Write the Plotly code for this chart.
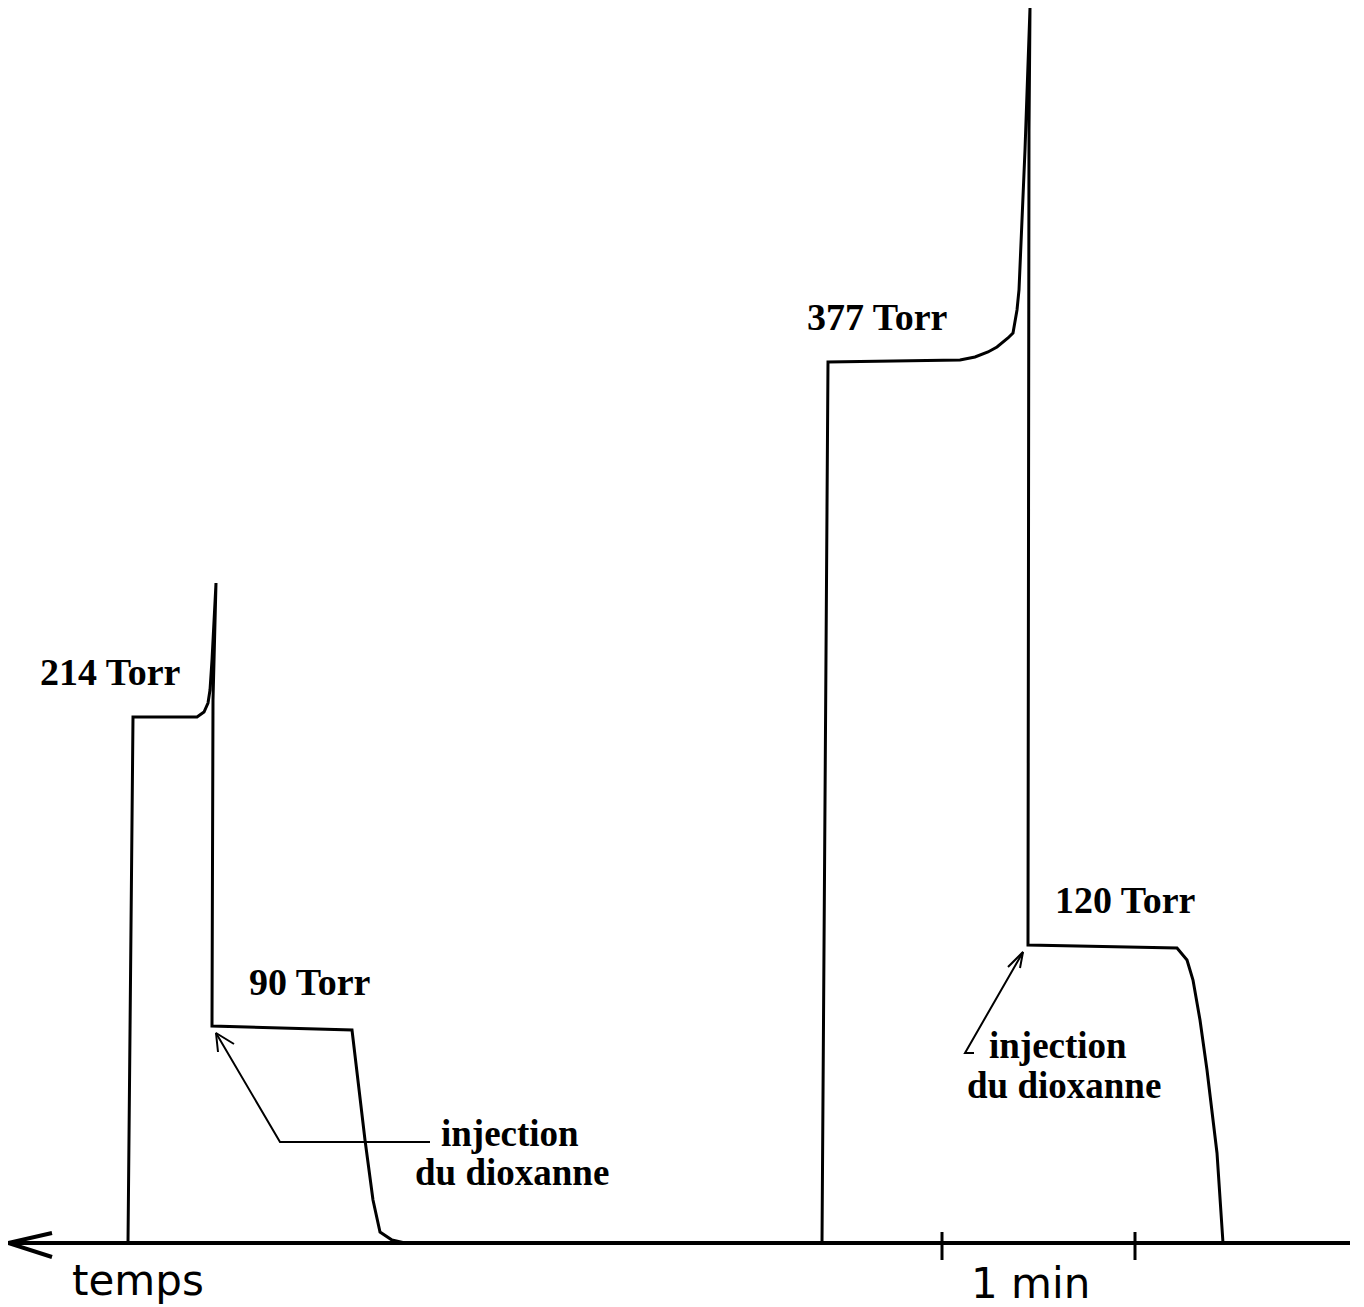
import plotly.graph_objects as go

# ---- data (x: chart position along time axis, y: signal height above baseline) ----
trace_x = [128, 133, 197, 204, 208, 210, 212, 216, 213, 212, 352, 358, 365, 373, 380, 392, 405,
           822, 828, 960, 975, 988, 997, 1008, 1013, 1017, 1019, 1025, 1030, 1029, 1028,
           1177, 1187, 1193, 1200, 1207, 1217, 1223]
trace_y = [0, 526, 526, 531, 540, 553, 583, 660, 543, 217, 213, 163, 103, 43, 11, 3, 0,
           0, 881, 883, 886, 891, 896, 905, 910, 933, 953, 1093, 1235, 1113, 298,
           295, 283, 263, 223, 173, 90, 0]

axis_x = [1350, 8]                 # time axis, arrow pointing to the left
axis_y = [0, 0]
axis_head_x = [52, 8, 52]
axis_head_y = [10, 0, -14]

tick_x = [942, 1135]               # 1 min interval
tick_y_span = [11, -17]

# injection arrows
inj_left_x = [430, 280, 216]
inj_left_y = [101, 101, 210]
inj_left_head_x = [218, 216, 234]
inj_left_head_y = [191, 210, 199]
inj_right_x = [974, 965, 1023]
inj_right_y = [190, 190, 291]
inj_right_head_x = [1008, 1023, 1020]
inj_right_head_y = [276, 291, 275]

labels = ["214 Torr", "377 Torr", "90 Torr", "120 Torr"]
label_x = [38, 805, 247, 1053]
label_y = [571, 926, 261, 343]

inj_text = ["injection", "du dioxanne", "injection", "du dioxanne"]
inj_text_x = [439, 413, 987, 965]
inj_text_y = [110, 71, 198, 158]

axis_text = ["temps", "1 min"]
axis_text_x = [70, 969]
axis_text_y = [-37, -40]

# the page body adds an 8px offset; compensate in the axis ranges
PAD = 8

INK = "black"
fig = go.Figure()

fig.add_trace(go.Scatter(x=trace_x, y=trace_y, mode="lines",
                         line=dict(color=INK, width=3), hoverinfo="skip"))
fig.add_trace(go.Scatter(x=axis_x, y=axis_y, mode="lines",
                         line=dict(color=INK, width=4), hoverinfo="skip"))
fig.add_trace(go.Scatter(x=axis_head_x, y=axis_head_y, mode="lines",
                         line=dict(color=INK, width=4), hoverinfo="skip"))

tx, ty = [], []
for t in tick_x:
    tx += [t, t, None]
    ty += [tick_y_span[0], tick_y_span[1], None]
fig.add_trace(go.Scatter(x=tx, y=ty, mode="lines",
                         line=dict(color=INK, width=3), hoverinfo="skip"))

for xs, ys in [(inj_left_x, inj_left_y), (inj_left_head_x, inj_left_head_y),
               (inj_right_x, inj_right_y), (inj_right_head_x, inj_right_head_y)]:
    fig.add_trace(go.Scatter(x=xs, y=ys, mode="lines",
                             line=dict(color=INK, width=2), hoverinfo="skip"))

serif = dict(family="Liberation Serif", size=38, color=INK)
for t, x, y in zip(labels, label_x, label_y):
    fig.add_annotation(x=x, y=y, text="<b>%s</b>" % t, showarrow=False,
                       xanchor="left", yanchor="middle", font=serif)
serif2 = dict(family="Liberation Serif", size=37, color=INK)
for t, x, y in zip(inj_text, inj_text_x, inj_text_y):
    fig.add_annotation(x=x, y=y, text="<b>%s</b>" % t, showarrow=False,
                       xanchor="left", yanchor="middle", font=serif2)
sans = dict(family="DejaVu Sans", size=42, color=INK)
for t, x, y in zip(axis_text, axis_text_x, axis_text_y):
    fig.add_annotation(x=x, y=y, text=t, showarrow=False,
                       xanchor="left", yanchor="middle", font=sans)

fig.update_layout(
    width=1364, height=1307,
    margin=dict(l=0, r=0, t=0, b=0),
    paper_bgcolor="white", plot_bgcolor="white",
    showlegend=False,
    xaxis=dict(range=[PAD, 1364 + PAD], visible=False, fixedrange=True),
    yaxis=dict(range=[-64 - PAD, 1243 - PAD], visible=False, fixedrange=True),
)

fig.write_html("out.html")
